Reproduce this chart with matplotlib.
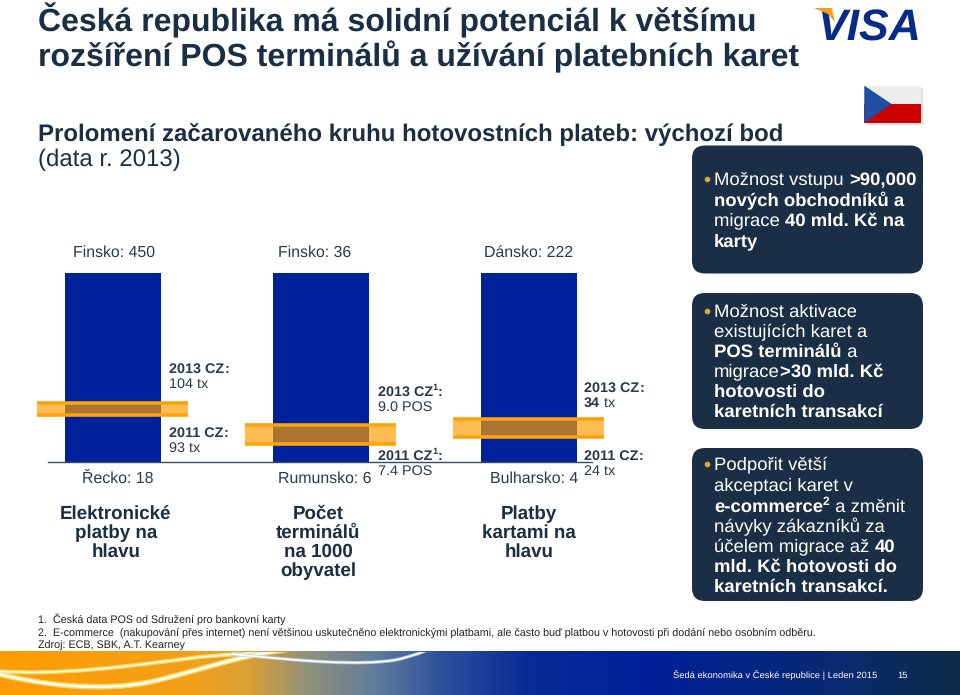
import math
import numpy as np
import matplotlib
matplotlib.use("Agg")
import matplotlib.pyplot as plt
from matplotlib.colors import LinearSegmentedColormap
from matplotlib.patches import FancyBboxPatch, PathPatch, Polygon, Rectangle
from matplotlib.path import Path

plt.rcParams["font.family"] = ["Liberation Sans", "DejaVu Sans"]
plt.rcParams["text.hinting"] = "no_hinting"

# ── Data ───────────────────────────────────────────────────────────
top_labels = ["Finsko: 450", "Finsko: 36", "Dánsko: 222"]
bottom_labels = ["Řecko: 18", "Rumunsko: 6", "Bulharsko: 4"]
metrics = [
    ["Elektronické", "platby na", "hlavu"],
    ["Počet", "terminálů", "na 1000", "obyvatel"],
    ["Platby", "kartami na", "hlavu"],
]
bar_share = [100, 100, 100]      # bars run from lowest to highest country
band_low = [24.4, 9.1, 12.8]     # CZ 2011 position, % of bar
band_high = [31.1, 19.5, 22.6]   # CZ 2013 position, % of bar

years = ["2013 CZ", "2011 CZ"]
cz_values = [["104 tx", "93 tx"], ["9.0 POS", "7.4 POS"], ["34 tx", "24 tx"]]
cz_notes = ["", "1", ""]

footnotes = [
    "1.  Česká data POS od Sdružení pro bankovní karty",
    "2.  E-commerce  (nakupování přes internet) není většinou uskutečněno elektronickými platbami, ale často buď platbou v hotovosti při dodání nebo osobním odběru.",
    "Zdroj: ECB, SBK, A.T. Kearney",
]

NAVY = "#1A2F45"
TEXT = "#2A3A4A"
BAR = "#00219C"
ORANGE = "#FF9D00"

fig = plt.figure(figsize=(9.6, 6.95), dpi=100, facecolor="white")
W, H = 960, 695

# pixel canvas for the slide furniture
bg = fig.add_axes([0, 0, 1, 1])
bg.set_xlim(0, W)
bg.set_ylim(H, 0)
bg.axis("off")
renderer = fig.canvas.get_renderer()


def put(x, y, txt, **kw):
    # Agg places the text bitmap by its bottom edge, so work out where the baseline row falls
    # inside the bitmap to keep mixed runs on one line
    t = bg.text(x, y, txt, va="baseline", **kw)
    _, h, d = renderer.get_text_width_height_descent(txt, t.get_fontproperties(), False)
    below = int(h) + 1 - math.floor(h - d)
    t.set_y(round(y) + below - d - 1)
    return t


def text_width(txt, **kw):
    t = bg.text(0, 0, "|" + txt + "|", **kw)
    w = t.get_window_extent(renderer).width
    t.set_text("||")
    w -= t.get_window_extent(renderer).width
    t.remove()
    return w


def runs(x, y, parts, size, color):
    # parts: (text, style) with style n=normal b=bold s=bold superscript
    for txt, style in parts:
        kw = dict(fontsize=size, fontweight="bold" if style in "bs" else "normal")
        dy = 0
        if style == "s":
            kw["fontsize"] = size * 0.65
            dy = -size * 0.55
        put(x, y + dy, txt, color=color, ha="left", **kw)
        x += text_width(txt, **kw)


# ── Title block ────────────────────────────────────────────────────
put(38, 31, "Česká republika má solidní potenciál k většímu", fontsize=23.05, fontweight="bold", color=NAVY)
put(38, 66, "rozšíření POS terminálů a užívání platebních karet", fontsize=23.05, fontweight="bold", color=NAVY)
put(38, 141, "Prolomení začarovaného kruhu hotovostních plateb: výchozí bod", fontsize=17.25, fontweight="bold", color=NAVY)
put(38, 166, "(data r. 2013)", fontsize=17.25, color=NAVY)

# ── Logo and flag ──────────────────────────────────────────────────
bg.text(817, 41, "VISA", fontsize=32, fontweight="bold", style="italic", color="#0A2A8A")
bg.add_patch(Polygon([(814, 8), (832, 8), (835, 22), (828, 14)], fc="#F7A11A", ec="none", zorder=5))

bg.add_patch(Rectangle((866, 88), 57, 36.5, fc="#CCCCCC", ec="none", alpha=0.6))
bg.add_patch(Rectangle((864.3, 85.7), 56.7, 18.5, fc="#EDEDED", ec="none"))
bg.add_patch(Rectangle((864.3, 104), 56.7, 18.7, fc="#CC0000", ec="none"))
bg.add_patch(Polygon([(864.3, 85.7), (891.7, 104), (864.3, 122.7)], fc="#1F4FA0", ec="none"))

# ── Message boxes ──────────────────────────────────────────────────
boxes = [
    (692, 145.5, 231, 128, 714, [185, 206, 226, 247], [
        [("Možnost vstupu ", "n"), (">90,000", "b")],
        [("nových obchodníků a", "b")],
        [("migrace ", "n"), ("40 mld. Kč na", "b")],
        [("karty", "b")],
    ]),
    (692, 293, 231, 136, 714, [317, 337, 357, 377, 397, 417], [
        [("Možnost aktivace", "n")],
        [("existujících karet a", "n")],
        [("POS terminálů", "b"), (" a", "n")],
        [("migrace", "n"), (">30 mld. Kč", "b")],
        [("hotovosti do", "b")],
        [("karetních transakcí", "b")],
    ]),
    (692, 448, 231, 153, 714, [470, 491, 512, 532, 552, 572, 592], [
        [("Podpořit větší", "n")],
        [("akceptaci karet v", "n")],
        [("e-commerce", "b"), ("2", "s"), (" a změnit", "n")],
        [("návyky zákazníků za", "n")],
        [("účelem migrace až ", "n"), ("40", "b")],
        [("mld. Kč hotovosti do", "b")],
        [("karetních transakcí.", "b")],
    ]),
]
for x, y, w, h, tx, baselines, lines in boxes:
    bg.add_patch(FancyBboxPatch((x + 13, y + 13), w - 26, h - 26, boxstyle="round,pad=13,rounding_size=13",
                                fc=NAVY, ec="none"))
    bg.plot([706.7], [baselines[0] - 6], "o", ms=3, color="#E3A834")
    for by, parts in zip(baselines, lines):
        runs(tx, by, parts, 13.3, "white")

# ── Footnotes ──────────────────────────────────────────────────────
for y, note in zip([623, 635.5, 648], footnotes):
    put(38, y, note, fontsize=7.72, color="#222222")

# ── Footer band ────────────────────────────────────────────────────
stops = [(0, "#FF9D05"), (0.20, "#F2A018"), (0.26, "#D8A038"), (0.32, "#90917A"), (0.39, "#627C9C"),
         (0.46, "#2F509C"), (0.55, "#0A2A98"), (0.68, "#00209A"), (0.88, "#0A2A70"), (1, "#0E2A48")]
cmap = LinearSegmentedColormap.from_list("footer", stops)
bg.imshow(np.linspace(0, 1, 480)[None, :], extent=(0, W, H, 651.5), cmap=cmap, aspect="auto", zorder=1)
bg.set_xlim(0, W)
bg.set_ylim(H, 0)
clip = Rectangle((0, 651.5), W, 43.5, transform=bg.transData)


def wave(points, color, lw, alpha=1.0):
    codes = [Path.MOVETO] + [Path.CURVE4] * (len(points) - 1)
    p = PathPatch(Path(points, codes), fc="none", ec=color, lw=lw, alpha=alpha, capstyle="round", zorder=2)
    bg.add_patch(p)
    p.set_clip_path(clip)


line_a = [(-5, 671), (60, 676), (130, 666), (200, 657), (225, 655), (250, 653), (275, 651)]
line_b = [(-5, 673), (40, 685), (100, 692), (150, 682), (195, 672), (240, 655), (285, 650)]
line_c = [(232, 654), (300, 661), (360, 666), (395, 660), (405, 658), (415, 655), (425, 651)]
for line, w_out, w_in in [(line_a, 3.0, 1.0), (line_b, 4.0, 1.8), (line_c, 2.5, 1.2)]:
    outer = "#FFE97A" if line is not line_c else "#BBD0EE"
    wave(line, outer, w_out, 0.8)
    wave(line, "white", w_in)

put(673, 678, "Šedá ekonomika v České republice | Leden 2015", fontsize=6.77, color="white", zorder=3)
put(897, 678, "15", fontsize=6.77, color="white", zorder=3)

# ── Bars ───────────────────────────────────────────────────────────
ax = fig.add_axes([48 / W, 1 - 461.5 / H, 544 / W, 189 / H])
ax.patch.set_alpha(0)
x_pos = np.arange(len(bar_share))
bar_w = 96 / 208
band_w = 151 / 208
ax.bar(x_pos, bar_share, width=bar_w, color=BAR, zorder=1)
ax.bar(x_pos, np.array(band_high) - np.array(band_low), bottom=band_low, width=band_w, color=ORANGE,
       alpha=0.68, clip_on=False, zorder=2)
for x, lo, hi in zip(x_pos, band_low, band_high):
    ax.hlines([lo, hi], x - band_w / 2, x + band_w / 2, color="#FFA30A", lw=2.6, clip_on=False, zorder=3)
ax.set_xlim(-64.7 / 208, 479.3 / 208)
ax.set_ylim(0, 100)
ax.set_xticks([])
ax.set_yticks([])
for s in ["top", "left", "right"]:
    ax.spines[s].set_visible(False)
ax.spines["bottom"].set_color("#3A4C60")
ax.spines["bottom"].set_linewidth(1.0)
ax.set_zorder(2)

# ── Chart labels ───────────────────────────────────────────────────
for label, x in zip(top_labels, [73, 278, 484]):
    put(x, 257, label, fontsize=11.45, color=TEXT)
for label, x in zip(bottom_labels, [81.5, 278, 490]):
    put(x, 483, label, fontsize=11.45, color=TEXT)
for lines, x in zip(metrics, [115.7, 318, 529]):
    for y, line in zip([519, 538, 557, 576], lines):
        put(x, y, line, fontsize=13.5, fontweight="bold", color=NAVY, ha="center")

label_x = [169, 377.7, 584]
label_y = [[373, 388, 437, 452], [396, 411, 460, 475], [392, 407, 460, 475]]
for i, (vals, note) in enumerate(zip(cz_values, cz_notes)):
    ys = label_y[i]
    for j, (year, val) in enumerate(zip(years, vals)):
        parts = [(year, "b")]
        if note:
            parts.append((note, "s"))
        parts.append((":", "b"))
        runs(label_x[i], ys[2 * j], parts, 10.35, TEXT)
        if val.startswith("34"):
            runs(label_x[i], ys[2 * j + 1], [("34", "b"), (" tx", "n")], 10.35, TEXT)
        else:
            runs(label_x[i], ys[2 * j + 1], [(val, "n")], 10.35, TEXT)

fig.savefig("out.png", dpi=100)
